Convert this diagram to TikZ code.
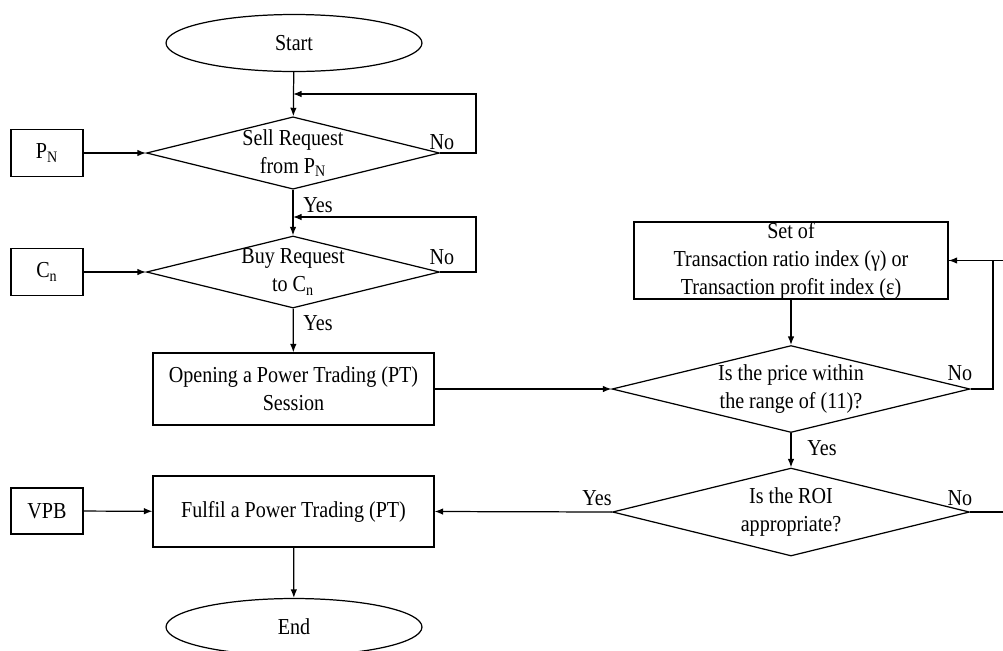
\documentclass[tikz,border=0pt]{standalone}
\usepackage{fontspec}
\setmainfont{Liberation Serif}[FakeStretch=0.88]
\usetikzlibrary{shapes.geometric,arrows.meta}
\begin{document}
\begin{tikzpicture}[x=0.02cm,y=-0.02cm,
  every node/.style={font=\fontsize{13}{16}\selectfont, align=center, inner sep=0pt},
  box/.style={draw, rectangle, line width=0.7pt},
  term/.style={draw, ellipse, line width=0.7pt, minimum width=5.12cm, minimum height=1.14cm},
  dec/.style={draw, diamond, line width=0.7pt, aspect=4},
  lab/.style={font=\fontsize{13}{14}\selectfont},
  flow/.style={line width=0.7pt, -{Latex[length=1.7mm,width=1.3mm]}},
  plain/.style={line width=0.7pt}]
\useasboundingbox (0,0) rectangle (1003,650);
\clip (0,0) rectangle (1003,650);

\node[term] (start) at (294,43) {Start};
\node[dec, minimum width=5.86cm, minimum height=1.42cm] (d1) at (293,153) {Sell Request\\from P\textsubscript{N}};
\node[box, minimum width=1.44cm, minimum height=0.94cm] (pn) at (47,153) {P\textsubscript{N}};
\node[dec, minimum width=5.86cm, minimum height=1.40cm] (d2) at (293,272) {Buy Request\\to C\textsubscript{n}};
\node[box, minimum width=1.44cm, minimum height=0.94cm] (cn) at (47,272) {C\textsubscript{n}};
\node[box, minimum width=5.62cm, minimum height=1.44cm] (open) at (293.5,389) {Opening a Power Trading (PT)\\Session};
\node[box, minimum width=6.28cm, minimum height=1.54cm] (set) at (791,260.5) {Set of\\Transaction ratio index (γ) or\\Transaction profit index (ε)};
\node[dec, minimum width=7.16cm, minimum height=1.74cm] (d3) at (791,389) {Is the price within\\the range of (11)?};
\node[dec, minimum width=7.14cm, minimum height=1.76cm] (d4) at (791,512) {Is the ROI\\appropriate?};
\node[box, minimum width=5.62cm, minimum height=1.42cm] (ful) at (293.5,511.5) {Fulfil a Power Trading (PT)};
\node[box, minimum width=1.44cm, minimum height=0.92cm] (vpb) at (47,511) {VPB};
\node[term] (end) at (294,627) {End};

\coordinate (c1) at (293,94);
\coordinate (c2) at (293,217);
\coordinate (r1) at (993,389);
\coordinate (r2) at (1020,512);

% main flow
\draw[flow] (start) -- (d1);
\draw[flow] (d1) -- (d2);
\draw[flow] (d2) -- (open);
\draw[flow] (ful) -- (end);
% inputs
\draw[flow] (pn) -- (d1);
\draw[flow] (cn) -- (d2);
\draw[flow] (vpb) -- (ful);
% loops
\draw[flow] (d1.east) -- ++(36,0) |- (c1);
\draw[flow] (d2.east) -- ++(36,0) |- (c2);
% right part
\draw[flow] (open) -- (d3);
\draw[flow] (set) -- (d3);
\draw[flow] (d3) -- (d4);
\draw[flow] (d4.west) -- (ful.east);
\draw[flow] (d3.east) -- (r1) |- (set.east);
\draw[plain] (d4.east) -- (r2) |- (set.east);

% labels
\node[lab] at (442,142) {No};
\node[lab] at (318,205) {Yes};
\node[lab] at (442,257) {No};
\node[lab] at (318,323) {Yes};
\node[lab] at (960,373) {No};
\node[lab] at (822,448) {Yes};
\node[lab] at (597,498) {Yes};
\node[lab] at (960,498) {No};
\end{tikzpicture}
\end{document}
